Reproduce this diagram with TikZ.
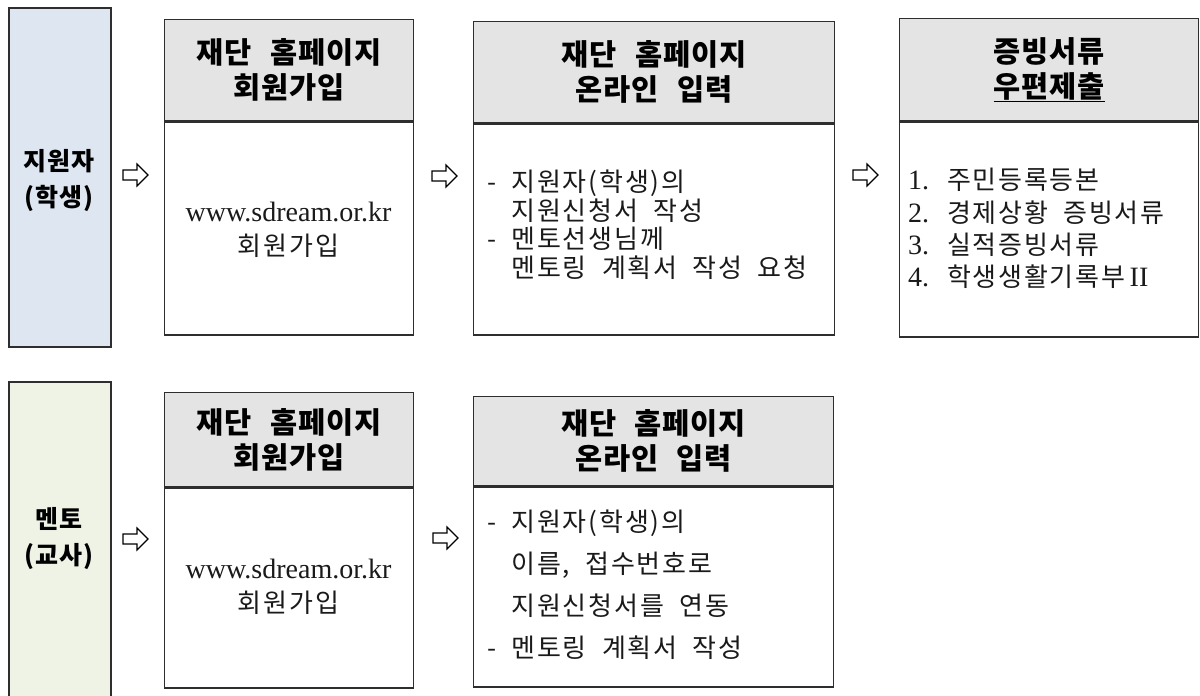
\documentclass[tikz,border=0pt]{standalone}
\usepackage{fontspec}
\setmainfont{Liberation Serif}
\newfontfamily\kr[WordSpace=2,LetterSpace=7]{Noto Sans CJK KR}
\newfontfamily\krh[WordSpace=2.4,LetterSpace=3]{Noto Sans CJK KR}
\newcommand{\lt}[1]{{\rmfamily\fontsize{28}{28}\selectfont #1}}
\definecolor{bluefill}{HTML}{DEE7F1}
\definecolor{greenfill}{HTML}{EEF3E5}
\definecolor{hdrgray}{HTML}{E4E4E4}
\definecolor{linec}{HTML}{2E2E2E}
\definecolor{txtc}{HTML}{1A1A1A}
\begin{document}
\begin{tikzpicture}[x=1pt,y=-1pt,
  side/.style={draw=linec, line width=1.6pt, anchor=north west, inner sep=0pt, minimum width=102},
  hdr/.style={draw=linec, fill=hdrgray, line width=1.4pt, anchor=north west, inner sep=0pt,
     align=center, font=\krh\bfseries\fontsize{29.5}{35}\selectfont, text=black},
  bdy/.style={draw=linec, fill=white, line width=1.4pt, anchor=north west, inner sep=0pt},
  btxt/.style={inner sep=0pt, align=left, text=txtc},
  ctxt/.style={inner sep=0pt, align=center, text=txtc, font=\kr\fontsize{26}{34}\selectfont},
  sidetxt/.style={inner sep=0pt, align=center, text=black, font=\krh\bfseries\fontsize{25}{36}\selectfont},
  harrow/.pic={\draw[line width=1.2pt, fill=white, line join=miter]
     (-12,-5) -- (2,-5) -- (2,-11) -- (13,0) -- (2,11) -- (2,5) -- (-12,5) -- cycle;}
]
\useasboundingbox (0,0) rectangle (1200,696);

% ---- upper row ----
\node[side, fill=bluefill, minimum height=339] (s1) at (8,7) {};
\node[sidetxt] (s1t) at (59,181) {지원자\\(학생)};

\node[hdr, minimum width=249, minimum height=101] (ah) at (164,19) {재단 홈페이지\\회원가입};
\node[bdy, minimum width=249, minimum height=213] (ab) at (ah.south west) {};
\node[ctxt] (at) at (288.5,230) {\lt{www.sdream.or.kr}\\회원가입};

\node[hdr, minimum width=361, minimum height=101] (bh) at (473,21) {재단 홈페이지\\온라인 입력};
\node[bdy, minimum width=361, minimum height=211] (bb) at (bh.south west) {};
\node[btxt, anchor=west, font=\kr\fontsize{26}{28.5}\selectfont] (bt) at (487,224.5)
  {- 지원자(학생)의\\\phantom{- }지원신청서 작성\\- 멘토선생님께\\\phantom{- }멘토링 계획서 작성 요청};

\node[hdr, minimum width=299, minimum height=102] (ch) at (899,18) {증빙서류\\\underline{우편제출}};
\node[bdy, minimum width=299, minimum height=215] (cb) at (ch.south west) {};
\node[btxt, anchor=west, font=\kr\fontsize{26}{32.3}\selectfont] (ct) at (908,228.5)
  {\lt{1.} 주민등록등본\\\lt{2.} 경제상황 증빙서류\\\lt{3.} 실적증빙서류\\\lt{4.} 학생생활기록부\,\lt{II}};

\pic (p1) at (135,175) {harrow};
\pic (p2) at (444,176) {harrow};
\pic (p3) at (865,175) {harrow};

% ---- lower row ----
\node[side, fill=greenfill, minimum height=330] (s2) at (8,381) {};
\node[sidetxt] (s2t) at (59,539) {멘토\\(교사)};

\node[hdr, minimum width=249, minimum height=94] (dh) at (164,392) {재단 홈페이지\\회원가입};
\node[bdy, minimum width=249, minimum height=200] (db) at (dh.south west) {};
\node[ctxt] (dt) at (288.5,586.5) {\lt{www.sdream.or.kr}\\회원가입};

\node[hdr, minimum width=360, minimum height=89] (eh) at (473,396) {재단 홈페이지\\온라인 입력};
\node[bdy, minimum width=360, minimum height=200] (eb) at (eh.south west) {};
\node[btxt, anchor=west, font=\kr\fontsize{26}{42}\selectfont] (et) at (487,585)
  {- 지원자(학생)의\\\phantom{- }이름, 접수번호로\\\phantom{- }지원신청서를 연동\\- 멘토링 계획서 작성};

\pic (p4) at (135,539) {harrow};
\pic (p5) at (445,538) {harrow};
\end{tikzpicture}
\end{document}
